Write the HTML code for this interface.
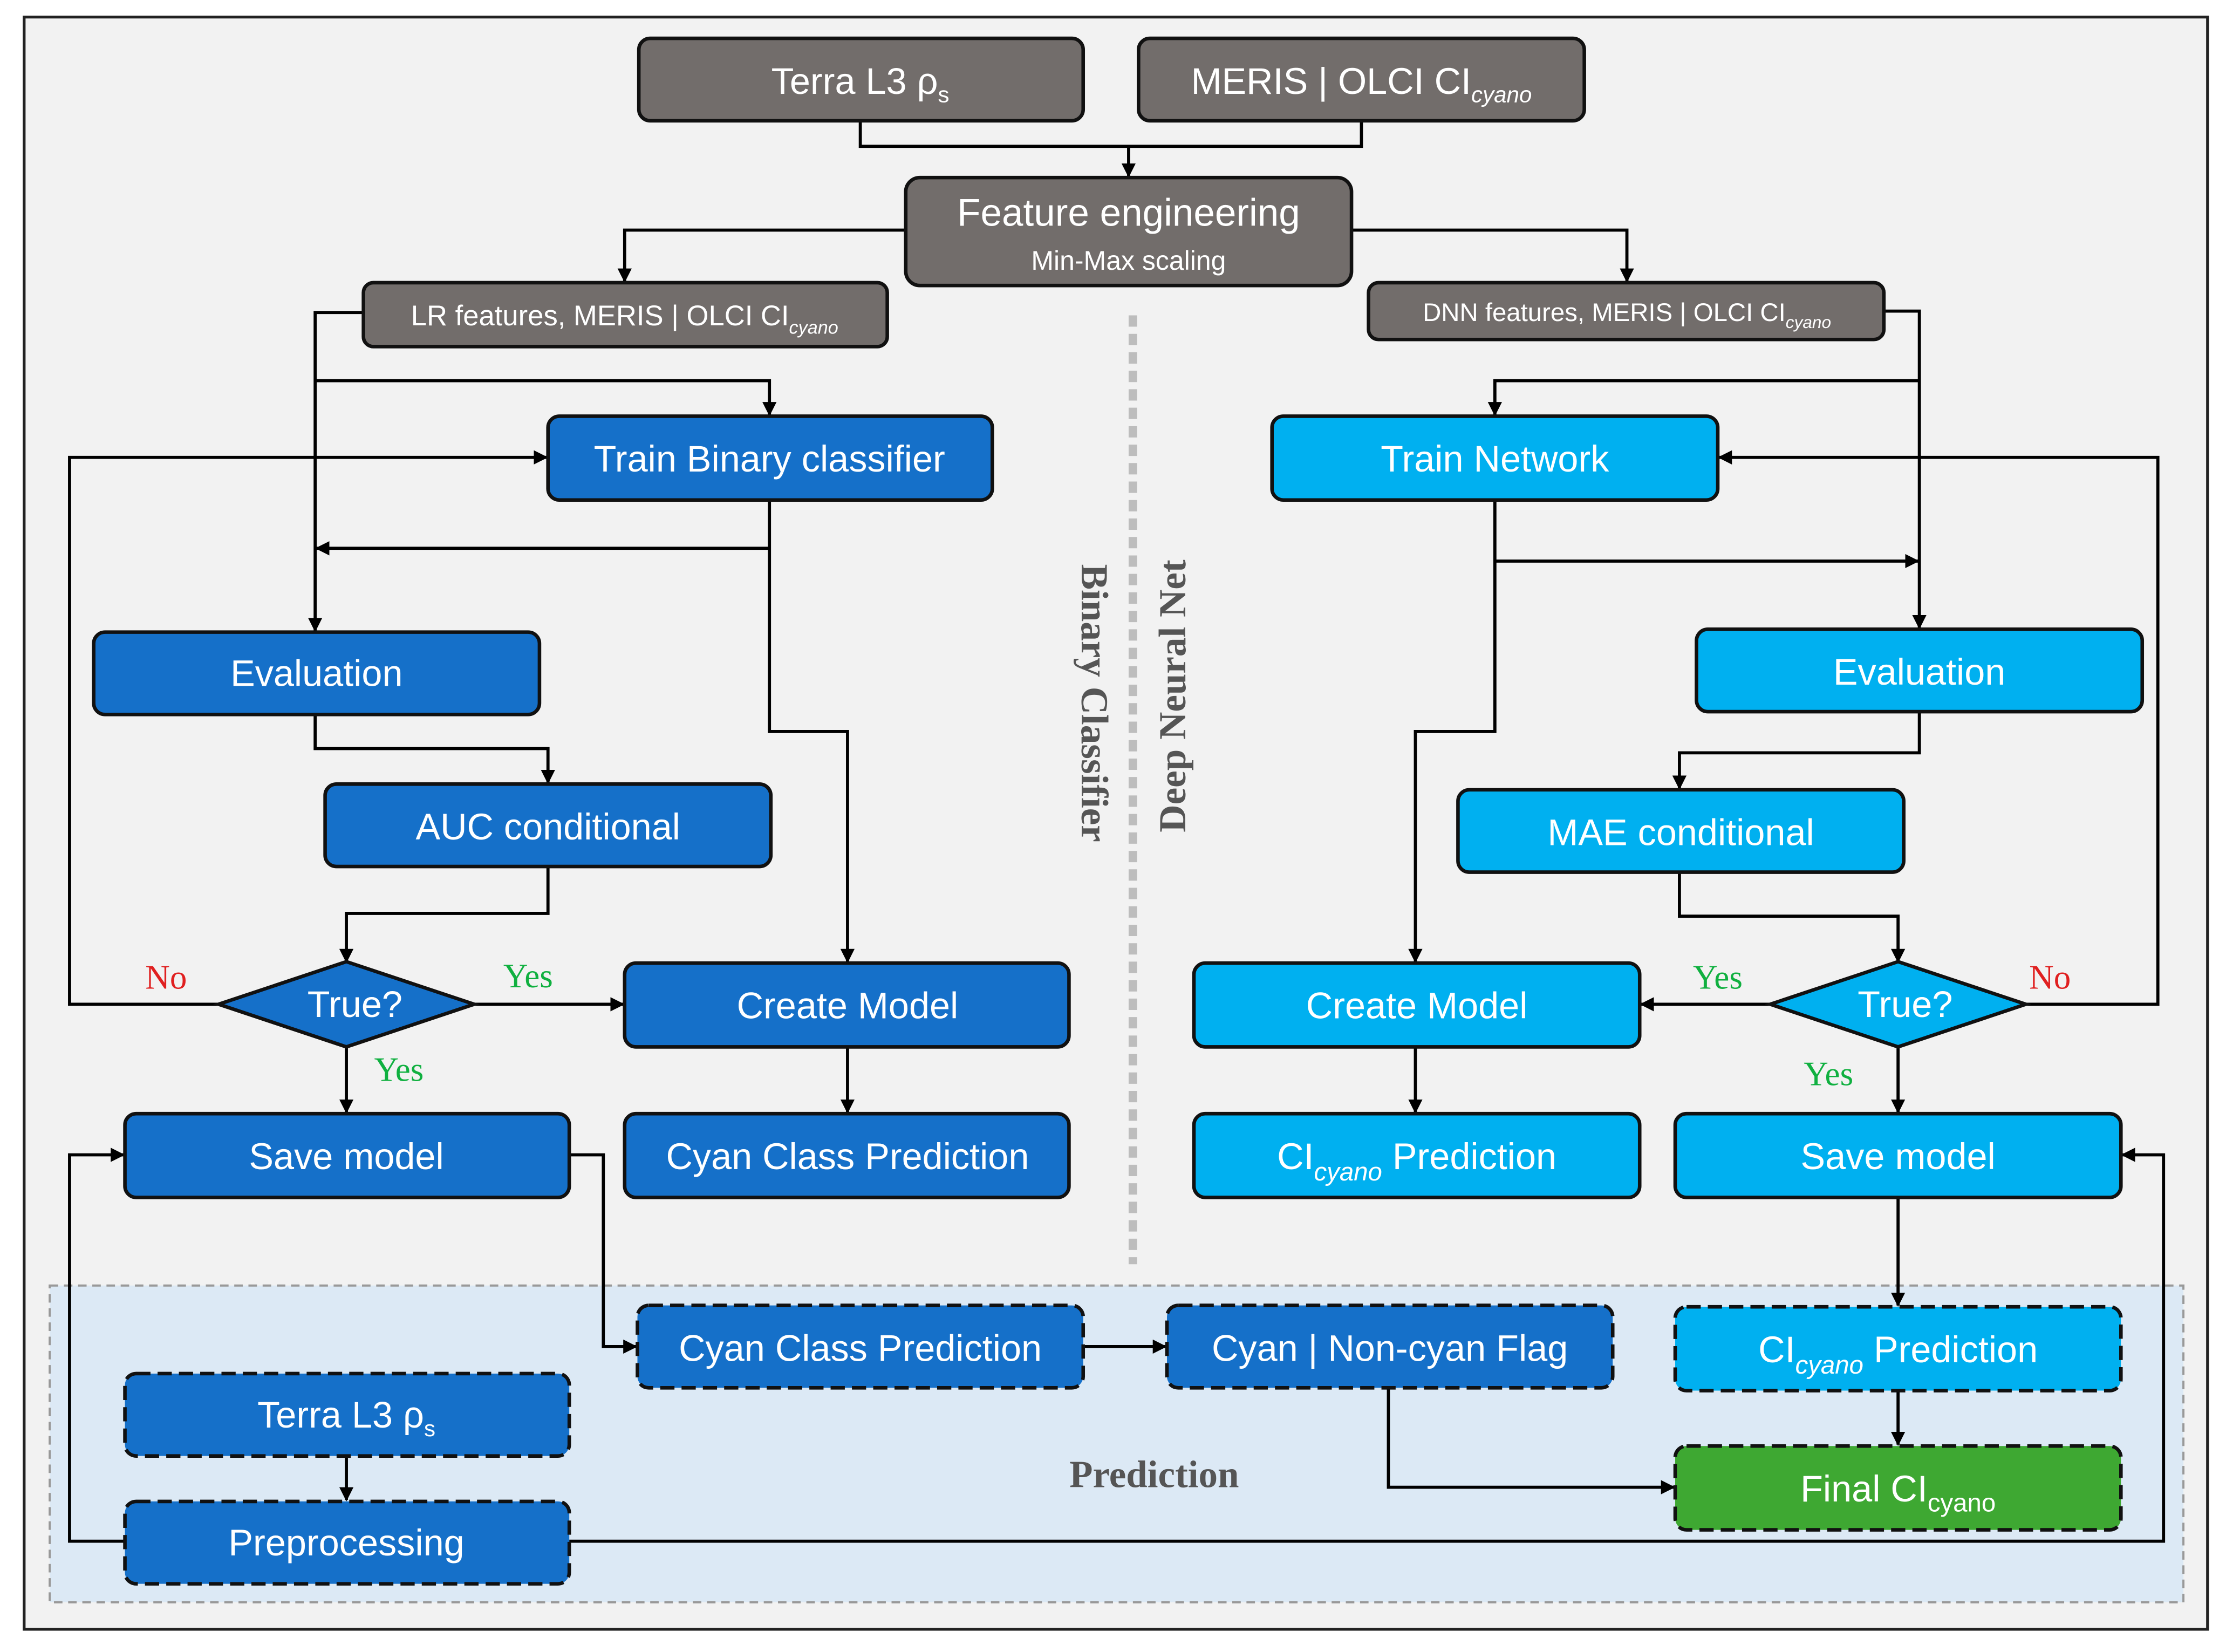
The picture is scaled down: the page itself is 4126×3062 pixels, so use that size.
<!DOCTYPE html>
<html><head><meta charset="utf-8"><style>
html,body{margin:0;padding:0;background:#fff;}
svg{display:block;}
text{font-family:"Liberation Sans",sans-serif;}
</style></head><body>
<svg width="4126" height="3062" viewBox="0 0 1568 1163" preserveAspectRatio="none" xmlns="http://www.w3.org/2000/svg">
<defs>
<marker id="a" markerWidth="10" markerHeight="10" refX="9" refY="5" orient="auto" markerUnits="userSpaceOnUse"><path d="M0,0 L10,5 L0,10 z" fill="#000"/></marker>
</defs>
<rect x="0" y="0" width="1568" height="1163" fill="#fff"/>
<rect x="17" y="12" width="1538" height="1135" fill="#f2f2f2" stroke="#222" stroke-width="2"/>
<rect x="35" y="905" width="1503" height="223" fill="#dce9f5" stroke="#999" stroke-width="1.5" stroke-dasharray="6,4"/>
<line x1="798" y1="222" x2="798" y2="890" stroke="#bdbdbd" stroke-width="6" stroke-dasharray="8,5"/>

<g fill="none" stroke="#000" stroke-width="2.2">
<path d="M606 85 V103 H959 V85"/>
<path d="M795 103 V124" marker-end="url(#a)"/>
<path d="M638 162 H440 V198" marker-end="url(#a)"/>
<path d="M952 162 H1146 V198" marker-end="url(#a)"/>
<path d="M256 220 H222 V444" marker-end="url(#a)"/>
<path d="M222 268 H542 V292" marker-end="url(#a)"/>
<path d="M542 352 V515 H597 V677" marker-end="url(#a)"/>
<path d="M542 386 H223" marker-end="url(#a)"/>
<path d="M222 503 V527 H386 V551" marker-end="url(#a)"/>
<path d="M386 610 V643 H244 V677" marker-end="url(#a)"/>
<path d="M154 707 H49 V322 H385" marker-end="url(#a)"/>
<path d="M334 707 H439" marker-end="url(#a)"/>
<path d="M244 737 V783" marker-end="url(#a)"/>
<path d="M597 737 V783" marker-end="url(#a)"/>
<path d="M401 813 H425 V948 H448" marker-end="url(#a)"/>
<path d="M88 1085 H49 V813 H87" marker-end="url(#a)"/>
<path d="M244 1025 V1056" marker-end="url(#a)"/>
<path d="M763 948 H821" marker-end="url(#a)"/>
<path d="M978 978 V1047 H1179" marker-end="url(#a)"/>
<path d="M401 1085 H1524 V813 H1495" marker-end="url(#a)"/>
<path d="M1337 843 V919" marker-end="url(#a)"/>
<path d="M1337 979 V1017" marker-end="url(#a)"/>
<path d="M1327 219 H1352 V442" marker-end="url(#a)"/>
<path d="M1352 268 H1053 V292" marker-end="url(#a)"/>
<path d="M1053 352 V515 H997 V677" marker-end="url(#a)"/>
<path d="M1053 395 H1351" marker-end="url(#a)"/>
<path d="M1352 501 V530 H1183 V555" marker-end="url(#a)"/>
<path d="M1183 614 V645 H1337 V677" marker-end="url(#a)"/>
<path d="M1427 707 H1520 V322 H1211" marker-end="url(#a)"/>
<path d="M1247 707 H1156" marker-end="url(#a)"/>
<path d="M1337 737 V783" marker-end="url(#a)"/>
<path d="M997 737 V783" marker-end="url(#a)"/>
</g>

<g stroke="#111" stroke-width="2.5">
<rect x="450" y="27" width="313" height="58" rx="8" fill="#726d6b"/>
<rect x="802" y="27" width="314" height="58" rx="8" fill="#726d6b"/>
<rect x="638" y="125" width="314" height="76" rx="10" fill="#726d6b"/>
<rect x="256" y="199" width="369" height="45" rx="7" fill="#726d6b"/>
<rect x="964" y="199" width="363" height="40" rx="7" fill="#726d6b"/>
<rect x="386" y="293" width="313" height="59" rx="8" fill="#1570c9"/>
<rect x="66" y="445" width="314" height="58" rx="8" fill="#1570c9"/>
<rect x="229" y="552" width="314" height="58" rx="8" fill="#1570c9"/>
<rect x="440" y="678" width="313" height="59" rx="8" fill="#1570c9"/>
<rect x="88" y="784" width="313" height="59" rx="8" fill="#1570c9"/>
<rect x="440" y="784" width="313" height="59" rx="8" fill="#1570c9"/>
<path d="M154 707 L244 677 L334 707 L244 737 Z" fill="#1570c9"/>
<rect x="896" y="293" width="314" height="59" rx="8" fill="#00b0f0"/>
<rect x="1195" y="443" width="314" height="58" rx="8" fill="#00b0f0"/>
<rect x="1027" y="556" width="314" height="58" rx="8" fill="#00b0f0"/>
<rect x="841" y="678" width="314" height="59" rx="8" fill="#00b0f0"/>
<rect x="841" y="784" width="314" height="59" rx="8" fill="#00b0f0"/>
<rect x="1180" y="784" width="314" height="59" rx="8" fill="#00b0f0"/>
<path d="M1247 707 L1337 677 L1427 707 L1337 737 Z" fill="#00b0f0"/>
</g>
<g stroke="#111" stroke-width="2.5" stroke-dasharray="10,5">
<rect x="449" y="919" width="314" height="58" rx="8" fill="#1570c9"/>
<rect x="822" y="919" width="314" height="58" rx="8" fill="#1570c9"/>
<rect x="88" y="967" width="313" height="58" rx="8" fill="#1570c9"/>
<rect x="88" y="1057" width="313" height="58" rx="8" fill="#1570c9"/>
<rect x="1180" y="920" width="314" height="59" rx="8" fill="#00b0f0"/>
<rect x="1180" y="1018" width="314" height="59" rx="8" fill="#3ea832"/>
</g>

<g fill="#fff" font-size="26" text-anchor="middle">
<text x="606" y="66">Terra L3 ρ<tspan font-size="16" dy="6">s</tspan></text>
<text x="959" y="66">MERIS | OLCI CI<tspan font-size="16" dy="6" font-style="italic">cyano</tspan></text>
<text x="795" y="159" font-size="27">Feature engineering</text>
<text x="795" y="190" font-size="19">Min-Max scaling</text>
<text x="440" y="229" font-size="20">LR features, MERIS | OLCI CI<tspan font-size="13" dy="6" font-style="italic">cyano</tspan></text>
<text x="1146" y="226" font-size="18">DNN features, MERIS | OLCI CI<tspan font-size="12" dy="5" font-style="italic">cyano</tspan></text>
<text x="542" y="332">Train Binary classifier</text>
<text x="223" y="483">Evaluation</text>
<text x="386" y="591">AUC conditional</text>
<text x="250" y="716">True?</text>
<text x="597" y="717">Create Model</text>
<text x="244" y="823">Save model</text>
<text x="597" y="823">Cyan Class Prediction</text>
<text x="1053" y="332">Train Network</text>
<text x="1352" y="482">Evaluation</text>
<text x="1184" y="595">MAE conditional</text>
<text x="1342" y="716">True?</text>
<text x="998" y="717">Create Model</text>
<text x="998" y="823">CI<tspan font-size="18" dy="8" font-style="italic">cyano</tspan><tspan dy="-8"> Prediction</tspan></text>
<text x="1337" y="823">Save model</text>
<text x="606" y="958">Cyan Class Prediction</text>
<text x="979" y="958">Cyan | Non-cyan Flag</text>
<text x="1337" y="959">CI<tspan font-size="18" dy="8" font-style="italic">cyano</tspan><tspan dy="-8"> Prediction</tspan></text>
<text x="244" y="1005">Terra L3 ρ<tspan font-size="16" dy="6">s</tspan></text>
<text x="244" y="1095">Preprocessing</text>
<text x="1337" y="1057">Final CI<tspan font-size="18" dy="7">cyano</tspan></text>
</g>

<g style="font-family:'Liberation Serif',serif" font-size="24">
<text style="font-family:'Liberation Serif',serif" x="117" y="696" fill="#e02020" text-anchor="middle">No</text>
<text style="font-family:'Liberation Serif',serif" x="372" y="695" fill="#10b040" text-anchor="middle">Yes</text>
<text style="font-family:'Liberation Serif',serif" x="281" y="761" fill="#10b040" text-anchor="middle">Yes</text>
<text style="font-family:'Liberation Serif',serif" x="1444" y="696" fill="#e02020" text-anchor="middle">No</text>
<text style="font-family:'Liberation Serif',serif" x="1210" y="696" fill="#10b040" text-anchor="middle">Yes</text>
<text style="font-family:'Liberation Serif',serif" x="1288" y="764" fill="#10b040" text-anchor="middle">Yes</text>
</g>
<g font-size="27" font-weight="bold" fill="#555" text-anchor="middle">
<text style="font-family:'Liberation Serif',serif" transform="translate(762,495) rotate(90)">Binary Classifier</text>
<text style="font-family:'Liberation Serif',serif" transform="translate(835,490) rotate(-90)">Deep Neural Net</text>
<text style="font-family:'Liberation Serif',serif" x="813" y="1047">Prediction</text>
</g>
</svg>
</body></html>
